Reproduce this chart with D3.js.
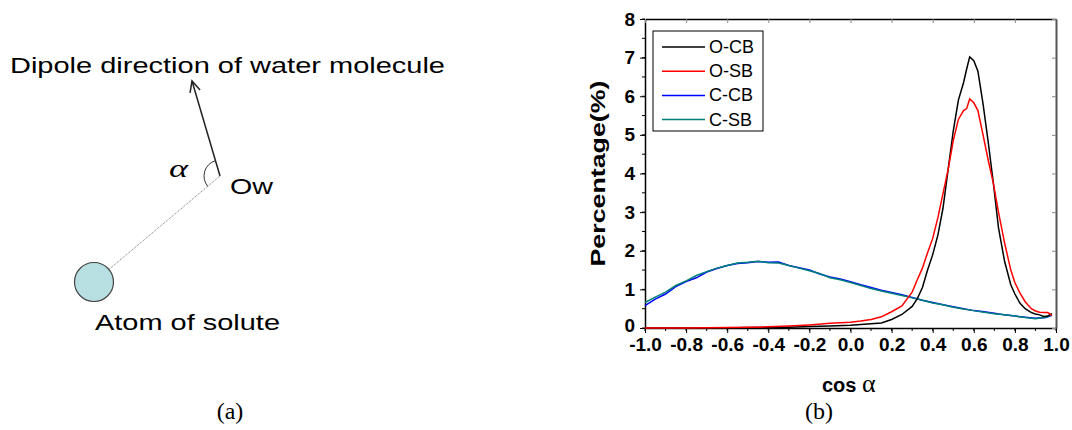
<!DOCTYPE html>
<html>
<head>
<meta charset="utf-8">
<script src="https://cdn.jsdelivr.net/npm/d3@7"></script>
<style>
  body { margin: 0; background: #fff; }
  svg { display: block; }
  .tick text { font-family: Arial, "Liberation Sans", sans-serif; font-weight: bold; font-size: 19px; fill: #000; }
</style>
</head>
<body>
<svg id="chart" width="1072" height="430"></svg>
<script>
// cos(alpha) grids
const cosBroad = [-1.00,-0.95,-0.90,-0.85,-0.80,-0.75,-0.70,-0.65,-0.60,-0.55,-0.50,-0.45,-0.40,-0.35,-0.30,-0.25,-0.20,-0.15,-0.10,-0.05,
                  0.00,0.05,0.10,0.15,0.20,0.25,0.30,0.35,0.40,0.45,0.50,0.55,0.60,0.65,0.70,0.75,0.80,0.85,0.90,0.95,0.98];
const cosPeak = [-1.0,-0.8,-0.6,-0.5,-0.4,-0.3,-0.2,-0.1,0.0,0.05,0.1,0.15,0.2,0.25,0.3,0.325,0.35,0.375,0.4,0.425,0.45,0.475,
                 0.5,0.525,0.55,0.565,0.58,0.6,0.62,0.645,0.67,0.695,0.72,0.75,0.78,0.8,0.825,0.85,0.88,0.9,0.92,0.94,0.96,0.98];

// percentage values
const oCB = [0,0,0,0.01,0.01,0.02,0.04,0.05,0.07,0.09,0.11,0.13,0.22,0.35,0.56,0.76,1.05,1.5,1.9,2.4,3.1,4.1,
             5.1,5.9,6.35,6.7,7.02,6.92,6.65,5.8,4.82,3.76,2.6,1.72,1.12,0.88,0.64,0.5,0.40,0.36,0.34,0.30,0.31,0.37];
const oSB = [0,0,0.01,0.02,0.03,0.05,0.08,0.12,0.15,0.18,0.22,0.29,0.42,0.57,0.93,1.25,1.55,1.95,2.32,2.85,3.48,4.1,
             4.85,5.4,5.63,5.68,5.93,5.83,5.63,5.0,4.35,3.75,3.0,2.2,1.5,1.17,0.9,0.68,0.5,0.44,0.41,0.40,0.40,0.33];
const cCB = [0.58,0.75,0.88,1.07,1.20,1.30,1.45,1.54,1.62,1.67,1.69,1.72,1.70,1.71,1.62,1.56,1.50,1.40,1.32,1.27,
             1.20,1.12,1.05,0.98,0.92,0.86,0.79,0.72,0.66,0.60,0.55,0.50,0.45,0.42,0.38,0.34,0.31,0.28,0.25,0.27,0.33];
const cSB = [0.66,0.80,0.93,1.10,1.22,1.36,1.46,1.55,1.62,1.68,1.70,1.73,1.69,1.68,1.62,1.55,1.48,1.41,1.30,1.25,
             1.18,1.10,1.02,0.96,0.90,0.84,0.78,0.72,0.65,0.60,0.54,0.49,0.45,0.41,0.37,0.34,0.31,0.27,0.24,0.28,0.35];

const seriesNames = ["O-CB", "O-SB", "C-CB", "C-SB"];
const seriesColors = ["#000000", "#ff0000", "#0000ff", "#00807a"];
const xTicks = [-1.0,-0.8,-0.6,-0.4,-0.2,0.0,0.2,0.4,0.6,0.8,1.0];
const yTicks = [0,1,2,3,4,5,6,7,8];

const svg = d3.select("#chart");
const sans = "Arial, 'Liberation Sans', sans-serif";
const serif = "'Liberation Serif', 'Times New Roman', serif";

// the source figure has its lettering stretched sideways; widen text to a given length
function widen(sel, len) {
  sel.attr("textLength", len).attr("lengthAdjust", "spacingAndGlyphs");
}

// ---------- panel (a): schematic ----------
const ow = [220, 176], tip = [192, 81], atom = [94, 282];

svg.append("text")
  .attr("x", 10).attr("y", 73)
  .attr("font-family", sans).attr("font-size", 22)
  .text("Dipole direction of water molecule")
  .call(widen, 435);

// dotted link atom -> Ow
svg.append("line")
  .attr("x1", atom[0]).attr("y1", atom[1]).attr("x2", ow[0]).attr("y2", ow[1])
  .attr("stroke", "#777").attr("stroke-width", 1).attr("stroke-dasharray", "1,1");

svg.append("circle")
  .attr("cx", atom[0]).attr("cy", atom[1]).attr("r", 19.5)
  .attr("fill", "#b8dfe2").attr("stroke", "#444").attr("stroke-width", 1.2);

// dipole arrow
svg.append("line")
  .attr("x1", ow[0]).attr("y1", ow[1]).attr("x2", tip[0]).attr("y2", tip[1])
  .attr("stroke", "#222").attr("stroke-width", 1.5);
const ang = Math.atan2(tip[1] - ow[1], tip[0] - ow[0]);
const head = [ang + Math.PI - 0.45, ang + Math.PI + 0.45].map((a) => [tip[0] + 12 * Math.cos(a), tip[1] + 12 * Math.sin(a)]);
svg.append("path")
  .attr("d", d3.line()([head[0], tip, head[1]]))
  .attr("fill", "none").attr("stroke", "#222").attr("stroke-width", 1.5);

// angle arc between the two directions
const aUp = Math.atan2(tip[1] - ow[1], tip[0] - ow[0]);
const aDown = Math.atan2(atom[1] - ow[1], atom[0] - ow[0]);
const arcR = 16;
const arcPath = d3.path();
arcPath.moveTo(ow[0] + arcR * Math.cos(aUp), ow[1] + arcR * Math.sin(aUp));
arcPath.arc(ow[0], ow[1], arcR, aUp, aDown, true);
svg.append("path").attr("d", arcPath.toString())
  .attr("fill", "none").attr("stroke", "#333").attr("stroke-width", 1);

svg.append("text")
  .attr("x", 169).attr("y", 177)
  .attr("font-family", serif).attr("font-style", "italic").attr("font-size", 26)
  .text("α")
  .call(widen, 19);
svg.append("text")
  .attr("x", 230).attr("y", 194)
  .attr("font-family", sans).attr("font-size", 22)
  .text("Ow")
  .call(widen, 43);
svg.append("text")
  .attr("x", 95).attr("y", 330)
  .attr("font-family", sans).attr("font-size", 22)
  .text("Atom of solute")
  .call(widen, 185);

svg.append("text")
  .attr("x", 230).attr("y", 419).attr("text-anchor", "middle")
  .attr("font-family", serif).attr("font-size", 24)
  .text("(a)");

// ---------- panel (b): distribution ----------
const plotL = 645, plotR = 1056, plotT = 19, plotB = 328;
const x = d3.scaleLinear().domain([-1, 1]).range([plotL, plotR]);
const y = d3.scaleLinear().domain([0, 8]).range([plotB, plotT]);

const plot = svg.append("g");

const xMinor = d3.range(-1, 1.001, 0.1);
const yMinor = d3.range(0, 8.001, 0.5);

// bottom axis (ticks outward)
const gx = plot.append("g").attr("transform", `translate(0,${plotB})`)
  .call(d3.axisBottom(x).tickValues(xTicks).tickFormat(d3.format(".1f")).tickSize(5).tickSizeOuter(0).tickPadding(5));
gx.append("g").selectAll("line").data(xMinor).join("line")
  .attr("x1", (d) => x(d)).attr("x2", (d) => x(d)).attr("y1", 0).attr("y2", 3).attr("stroke", "#000");

// left axis (ticks outward)
const gy = plot.append("g").attr("transform", `translate(${plotL},0)`)
  .call(d3.axisLeft(y).tickValues(yTicks).tickSize(5).tickSizeOuter(0).tickPadding(5));
gy.append("g").selectAll("line").data(yMinor).join("line")
  .attr("y1", (d) => y(d)).attr("y2", (d) => y(d)).attr("x1", 0).attr("x2", -3).attr("stroke", "#000");
// "0" sits just above the x labels, as in the source
gy.selectAll(".tick text").filter((d) => d === 0).attr("dy", "0.2em");

[gx, gy].forEach((g) => {
  g.selectAll(".domain").attr("stroke", "#000").attr("stroke-width", 1.5);
  g.selectAll(".tick line").attr("stroke", "#000");
  g.selectAll(".tick text").text(function() { return this.textContent.replace("−", "-"); });
});

// top and right frame with inward ticks
const gt = plot.append("g").attr("transform", `translate(0,${plotT})`)
  .call(d3.axisTop(x).tickValues(xTicks).tickSize(-4).tickSizeOuter(0).tickFormat(""));
const gr = plot.append("g").attr("transform", `translate(${plotR},0)`)
  .call(d3.axisRight(y).tickValues(yTicks).tickSize(-4).tickSizeOuter(0).tickFormat(""));
gt.selectAll(".domain").attr("stroke", "#000").attr("stroke-width", 1.5);
gr.selectAll(".domain").attr("stroke", "#555").attr("stroke-width", 2);
[gt, gr].forEach((g) => g.selectAll(".tick line").attr("stroke", "#888"));

// curves
const line = d3.line().x((d) => x(d[0])).y((d) => y(d[1]));
const seriesData = [
  d3.zip(cosPeak, oCB),
  d3.zip(cosPeak, oSB),
  d3.zip(cosBroad, cCB),
  d3.zip(cosBroad, cSB)
];
const drawOrder = [2, 3, 0, 1];
drawOrder.forEach((i) => {
  plot.append("path")
    .datum(seriesData[i])
    .attr("d", line)
    .attr("fill", "none")
    .attr("stroke", seriesColors[i])
    .attr("stroke-width", 1.5);
});

// legend
const legend = plot.append("g").attr("transform", "translate(653,31)");
legend.append("rect").attr("width", 110).attr("height", 100)
  .attr("fill", "#fff").attr("stroke", "#000").attr("stroke-width", 1);
seriesNames.forEach((name, i) => {
  const ly = 16 + i * 24.2;
  legend.append("line").attr("x1", 9).attr("x2", 52).attr("y1", ly).attr("y2", ly)
    .attr("stroke", seriesColors[i]).attr("stroke-width", 1.5);
  legend.append("text").attr("x", 56).attr("y", ly + 6)
    .attr("font-family", sans).attr("font-size", 18)
    .text(name);
});

// axis titles
svg.append("text")
  .attr("transform", `translate(605,${(plotT + plotB) / 2}) rotate(-90)`)
  .attr("text-anchor", "middle")
  .attr("font-family", sans).attr("font-weight", "bold").attr("font-size", 21)
  .text("Percentage(%)")
  .call(widen, 186);

const xt = svg.append("text")
  .attr("x", 822).attr("y", 392)
  .attr("font-family", sans).attr("font-size", 20);
xt.append("tspan").attr("font-weight", "bold").text("cos ");
xt.append("tspan").attr("font-family", serif).attr("font-size", 26).text("α");

svg.append("text")
  .attr("x", 819).attr("y", 419).attr("text-anchor", "middle")
  .attr("font-family", serif).attr("font-size", 24)
  .text("(b)");
</script>
</body>
</html>
